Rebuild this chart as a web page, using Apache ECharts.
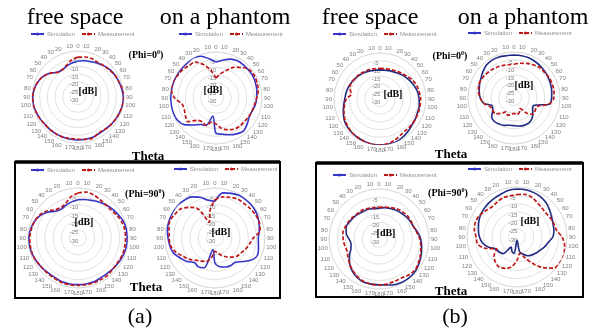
<!DOCTYPE html>
<html><head><meta charset="utf-8">
<script src="https://cdn.jsdelivr.net/npm/echarts@6/dist/echarts.min.js"></script>
<style>html,body{margin:0;padding:0;background:#fff}#c{width:594px;height:331px}</style>
</head><body><div id="c"></div>
<script>
// Angles (degrees, clockwise from top)
const angles = [0,10,20,30,40,50,60,70,80,90,100,110,120,130,140,150,160,170,180,190,200,210,220,230,240,250,260,270,280,290,300,310,320,330,340,350];
const angleTicks = [0,10,20,30,40,50,60,70,80,90,100,110,120,130,140,150,160,170,180];
const radiusTicks = [-30,-25,-20,-15,-10,-5,0];

// (a) free space, Phi=0
const a1Sim  = [-6.5,-6,-5.5,-4.5,-3.5,-2.5,-2,-1.5,-1,-0.5,-0.5,-1,-1.5,-2,-2.5,-2.5,-2,-2,-2,-2,-2,-2,-2,-2,-1.5,-1,-0.5,-0.5,-1,-2,-3.5,-6,-9,-9.5,-8.5,-7.5];
const a1Meas = [-4,-3.5,-3.5,-4,-3.5,-3,-2,-1.5,-0.5,0,-0.5,-1,-1.5,-2,-2.5,-3,-1.5,-2,-2.5,-2.5,-2,-2,-2,-2,-1.5,-1,-0.5,-0.5,-1,-2,-3.5,-6,-9,-9.5,-8,-5.5];
// (a) on a phantom, Phi=0
const a2Sim  = [-6.5,-5,-3,-2,-2,-2,-2,-2.5,-3,-3.5,-4,-5,-5,-3.5,-2,-3,-4.5,-6,-7,-18,-11,-10,-7,-3,-1,-0.5,-0.5,-0.5,-0.5,-0.5,-0.5,-0.5,-0.5,0,-1,-4];
const a2Meas = [-17,-14,-11,-7,-4,-1.5,-1,-1.5,-2,-3.5,-4.5,-5,-5.5,-6,-6,-6.5,-8,-10,-13,-14,-11,-12,-11,-6,-7,-8,-7.5,-3,-0.5,0,-1,-1.5,-2.5,-3,-7,-12];
// (a) free space, Phi=90
const a3Sim  = [-7,-6.5,-6,-5,-4,-3,-2,-1,-0.5,-0.5,-0.5,-1,-1.5,-2,-2.5,-2.5,-2,-2,-2,-2,-2,-2.5,-2.5,-2,-1.5,-1,-0.5,-0.5,-1,-2,-3.5,-6,-9,-10,-9,-8];
const a3Meas = [-3,-2,-2.5,-3.5,-4,-4,-3,-2,-1.5,-1.5,-1.5,-1.5,-2,-2,-1.5,-1.5,-1.5,-1.5,-1.5,-1.5,-1.5,-2,-2,-2,-1.5,-1,-1,-1,-1.5,-2,-3,-5,-8,-9,-8,-5];
// (a) on a phantom, Phi=90
const a4Sim  = [-8,-2.5,-1.5,-0.6,-0.5,-0.5,-1,-2,-3,-4,-3.5,-2.5,-4,-8,-11,-11,-11.5,-12.5,-15,-23,-11,-10,-10.8,-8,-6,-3.5,-2.5,-1.8,-1,-0.6,-0.3,0,-0.8,-1.5,-4,-7];
const a4Meas = [-7,-5,-4,-3,-3,-2.5,-2,-1.8,-2.5,-7,-9,-10.5,-12,-13,-15,-17,-19,-21,-22,-18,-15,-14,-12.5,-10,-8,-5,-3,-2.5,-2,-1,-2,-3,-6,-10,-20,-13];
// (b) free space, Phi=0
const b1Sim  = [-11,-11,-10.5,-10,-9,-8,-7,-6,-5,-4.5,-4,-4,-3.5,-3,-2,-1,0,0,0,0,-0.5,-1,-1.5,-2,-3,-4.5,-6,-7,-7.5,-8,-8.5,-9,-9.5,-10,-10.5,-11];
const b1Meas = [-10,-10,-9.5,-9,-8,-7,-5.5,-4.5,-4,-3.5,-3.5,-3.5,-3.5,-3.5,-3.5,-3,-1.5,-0.5,0,0,-0.5,-1,-1.5,-2.5,-3.5,-5,-6.5,-8,-11,-9,-8.5,-9,-9,-9.5,-9.5,-10];
// (b) on a phantom, Phi=0
const b2Sim  = [-2,-2,-2,-2.5,-3,-3.5,-4,-4.5,-5,-5.5,-6.5,-16,-16,-14,-12,-11,-11,-11.5,-12,-12,-11,-10.5,-10,-11,-14,-15,-10,-8,-7,-6,-5,-3.5,-2,-1.5,-1.5,-2];
const b2Meas = [-8,-7,-6,-5,-4,-4,-3.5,-3.5,-3.5,-4,-7,-14,-14,-13.5,-17,-22,-20,-19,-20,-19,-18,-19.5,-17,-14,-14,-13.5,-10,-8,-6.5,-5.5,-5.5,-6,-6.5,-7,-7.5,-8];
// (b) free space, Phi=90
const b3Sim  = [-11.5,-11,-10.5,-10,-9.5,-9,-8.5,-8,-6.5,-5,-4,-3,-2,-1,-0.5,-0.5,-1,-2,-2.5,-2.5,-2.5,-3.5,-5,-7,-9.5,-12,-13,-12,-10,-9,-9.5,-10,-10.5,-11,-11,-11.5];
const b3Meas = [-11,-10.5,-10,-9,-8.5,-8,-8,-8,-7,-5.5,-4.5,-3.5,-2.5,-1.5,-2,-3,-3,-2.5,-2.5,-2.5,-3,-4,-5.5,-7,-8.5,-9.5,-9,-8.5,-8,-8.5,-9,-9.5,-10,-10,-10.5,-11];
// (b) on a phantom, Phi=90
const b4Sim  = [-1.2,-1.2,-1.5,-2,-3,-4.5,-6,-7,-7.5,-8.5,-11,-12.5,-14,-15,-16,-17,-19,-21,-28,-20,-21,-23,-17,-16,-15.5,-12,-9,-7.5,-6.5,-5.5,-4.5,-4,-3.5,-3,-2.5,-1.5];
const b4Meas = [-4.5,-4,-4.5,-6,-7,-7.5,-7,-6.5,-6,-3,-1,0,0,-1,-6,-12,-17,-20,-16,-12,-10,-9,-10,-12,-16,-10,-6,-5.5,-4,-3.5,-4,-5.5,-6.5,-6,-5,-5];

const plots = [
  {c:[78,97],  r:46, sim:a1Sim, meas:a1Meas, blue:'#3535c8'},
  {c:[216,98], r:46, sim:a2Sim, meas:a2Meas, blue:'#3535c8'},
  {c:[78,238], r:50, sim:a3Sim, meas:a3Meas, blue:'#3535c8'},
  {c:[215,238],r:50, sim:a4Sim, meas:a4Meas, blue:'#3535c8'},
  {c:[380,99], r:46, sim:b1Sim, meas:b1Meas, blue:'#1e2a84'},
  {c:[514,98], r:46, sim:b2Sim, meas:b2Meas, blue:'#1e2a84'},
  {c:[379,239],r:50, sim:b3Sim, meas:b3Meas, blue:'#1e2a84'},
  {c:[517,237],r:50, sim:b4Sim, meas:b4Meas, blue:'#1e2a84'}
];
const legendPos = [[30,31],[178,31],[30,167],[173,166],[332,31],[467,30],[332,172],[467,166]];
const RED = '#c01818';
const labelColor = '#808080';

const polar=[], angleAxis=[], radiusAxis=[], series=[], legend=[];
plots.forEach((p,i)=>{
  polar.push({center:p.c, radius:p.r});
  angleAxis.push({
    polarIndex:i, type:'value', min:0, max:360, interval:10, startAngle:90, clockwise:true,
    axisLine:{show:true, lineStyle:{color:'#d9d9d9', width:0.8}},
    axisTick:{show:false}, splitLine:{show:false},
    axisLabel:{fontSize:6, color:labelColor, margin:2, fontFamily:'Liberation Sans',
      formatter:v=> v>=360 ? '' : String(v<=180 ? v : 360-v)}
  });
  radiusAxis.push({
    polarIndex:i, type:'value', min:radiusTicks[0], max:radiusTicks[radiusTicks.length-1], interval:5,
    axisLine:{show:false}, axisTick:{show:false},
    splitLine:{show:true, lineStyle:{color:'#d9d9d9', width:0.8}},
    axisLabel:{fontSize:6, color:labelColor, margin:4, align:'center', verticalAlign:'top', fontFamily:'Liberation Sans',
      formatter:v=> v===0 ? '' : String(v)}
  });
  const close = arr => arr.concat([arr[0]]);
  const ang = angles.concat([360]);
  series.push({type:'line', name:'Simulation', coordinateSystem:'polar', polarIndex:i, symbol:'none', smooth:0.3,
    lineStyle:{color:p.blue, width:1.6}, itemStyle:{color:p.blue},
    data: close(p.sim).map((v,k)=>[v, ang[k]])});
  series.push({type:'line', name:'Measurement', coordinateSystem:'polar', polarIndex:i, symbol:'none', smooth:0.3,
    lineStyle:{color:RED, width:1.7, type:[4,2]}, itemStyle:{color:RED},
    data: close(p.meas).map((v,k)=>[v, ang[k]])});
  legend.push({left:legendPos[i][0], top:legendPos[i][1], padding:0, itemGap:6, itemWidth:13, itemHeight:4,
    selectedMode:false, data:['Simulation','Measurement'],
    textStyle:{fontSize:6, color:'#909090', padding:[0,0,0,-2], fontFamily:'Liberation Sans'}});
});

const serif = 'Liberation Serif';
function txt(x,y,t,size,bold,align){
  return {type:'text', style:{x:x, y:y, text:t, fontSize:size, fontFamily:serif, fontWeight:bold?'bold':'normal',
    fill:'#000', textAlign:align||'center', textVerticalAlign:'middle'}, z:10};
}
function phi(x,y,val){
  return {type:'text', style:{x:x, y:y, text:'{n|(Phi='+val+'}{s|0}{n|)}', textAlign:'center', textVerticalAlign:'middle',
    rich:{n:{fontSize:10, fontWeight:'bold', fontFamily:serif, fill:'#000', lineHeight:12},
          s:{fontSize:6, fontWeight:'bold', fontFamily:serif, fill:'#000', verticalAlign:'top', lineHeight:12}}}, z:10};
}
const graphic = [
  txt(75,18,'free space',24), txt(225,18,'on a phantom',24),
  txt(370,18,'free space',24), txt(523,18,'on a phantom',24),
  txt(140,317,'(a)',22), txt(455,317,'(b)',22),
  txt(148,157,'Theta',13,true), txt(146,288,'Theta',13,true),
  txt(451,155,'Theta',13,true), txt(451,292,'Theta',13,true),
  phi(146,55,'0'), phi(145,194,'90'), phi(450,56,'0'), phi(448,193,'90'),
  txt(88,91,'[dB]',10,true), txt(213,90,'[dB]',10,true), txt(84,222,'[dB]',10,true), txt(221,232,'[dB]',10,true),
  txt(393,94,'[dB]',10,true), txt(524,85,'[dB]',10,true), txt(386,233,'[dB]',10,true), txt(530,221,'[dB]',10,true),
  {type:'rect', shape:{x:15,y:162,width:265,height:136}, style:{fill:'none', stroke:'#000', lineWidth:2}, z:10},
  {type:'line', shape:{x1:15,y1:162,x2:280,y2:162}, style:{stroke:'#000', lineWidth:3.5}, z:10},
  {type:'rect', shape:{x:316,y:163,width:267,height:134}, style:{fill:'none', stroke:'#000', lineWidth:2}, z:10},
  {type:'line', shape:{x1:316,y1:163,x2:583,y2:163}, style:{stroke:'#000', lineWidth:3.5}, z:10}
];

const chart = echarts.init(document.getElementById('c'), null, {renderer:'canvas'});
chart.setOption({animation:false, backgroundColor:'#fff', polar, angleAxis, radiusAxis, series, legend, graphic});
</script></body></html>
